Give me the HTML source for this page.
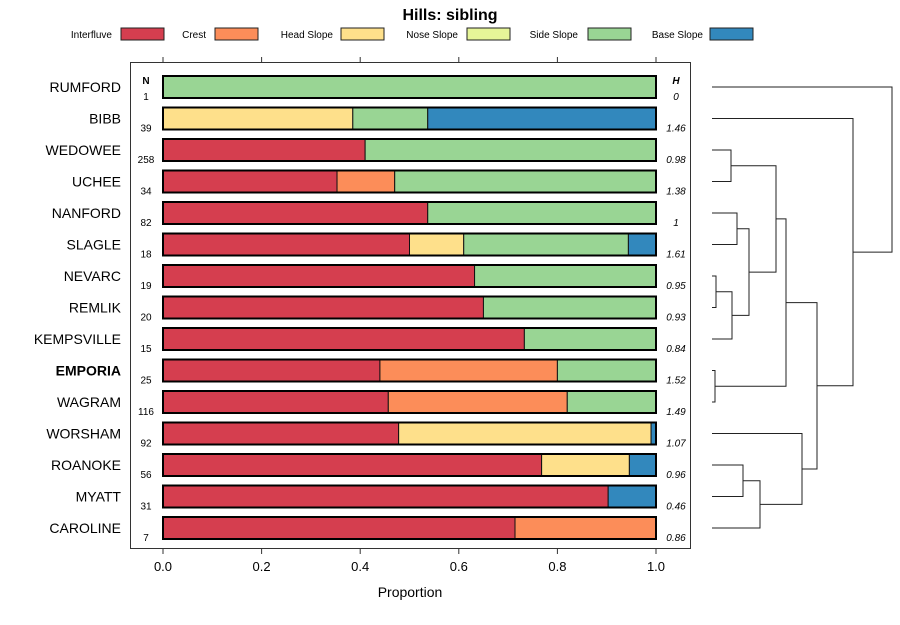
<!DOCTYPE html>
<html><head><meta charset="utf-8"><style>
body{margin:0;background:#fff;font-family:"Liberation Sans",sans-serif}
svg text{font-family:"Liberation Sans",sans-serif}
</style></head><body>
<svg id="c" width="900" height="620" xmlns="http://www.w3.org/2000/svg"></svg>
<script>
const categories=["RUMFORD","BIBB","WEDOWEE","UCHEE","NANFORD","SLAGLE","NEVARC","REMLIK","KEMPSVILLE","EMPORIA","WAGRAM","WORSHAM","ROANOKE","MYATT","CAROLINE"];
const classes=["Interfluve","Crest","Head Slope","Nose Slope","Side Slope","Base Slope"];
const colors=["#d53e4f","#fc8d59","#fee08b","#e6f598","#99d594","#3288bd"];
const interfluve=[0,0,0.41,0.353,0.537,0.5,0.632,0.65,0.733,0.44,0.457,0.478,0.768,0.903,0.714];
const crest=[0,0,0,0.117,0,0,0,0,0,0.36,0.363,0,0,0,0.286];
const headSlope=[0,0.385,0,0,0,0.11,0,0,0,0,0,0.512,0.178,0,0];
const noseSlope=[0,0,0,0,0,0,0,0,0,0,0,0,0,0,0];
const sideSlope=[1,0.152,0.59,0.53,0.463,0.334,0.368,0.35,0.267,0.2,0.18,0,0,0,0];
const baseSlope=[0,0.463,0,0,0,0.056,0,0,0,0,0,0.01,0.054,0.097,0];
const nValues=["1","39","258","34","82","18","19","20","15","25","116","92","56","31","7"];
const hValues=["0","1.46","0.98","1.38","1","1.61","0.95","0.93","0.84","1.52","1.49","1.07","0.96","0.46","0.86"];
const ticks=[0,0.2,0.4,0.6,0.8,1];
const tickLabels=["0.0","0.2","0.4","0.6","0.8","1.0"];
const series=[interfluve,crest,headSlope,noseSlope,sideSlope,baseSlope];
const NS="http://www.w3.org/2000/svg",svg=document.getElementById('c');
function mk(t,a,p){const e=document.createElementNS(NS,t);for(const k in a)e.setAttribute(k,a[k]);(p||svg).appendChild(e);return e;}
const X=p=>163+493*p, Y=i=>87+i*31.5;
// title
let t=mk('text',{x:450,y:20,'text-anchor':'middle','font-size':16,'font-weight':'bold'});t.textContent="Hills: sibling";

// legend
const legTextEnd=[112,206,333,458,578,703],legBox=[121,215,341,467,588,710];
classes.forEach((c,k)=>{
 const g=mk('g',{});
 
 const tx=mk('text',{x:legTextEnd[k],y:38,'text-anchor':'end','font-size':10},g);tx.textContent=c;
 mk('rect',{x:legBox[k],y:28,width:43,height:12,fill:colors[k],stroke:'#222','stroke-width':1},g);
});
// panel
const panel=mk('rect',{x:130.5,y:62.5,width:560,height:486,fill:'none',stroke:'#333','stroke-width':1});

ticks.forEach((v,k)=>{
 mk('line',{x1:X(v),x2:X(v),y1:57,y2:62,stroke:'#333'});
 mk('line',{x1:X(v),x2:X(v),y1:549,y2:554,stroke:'#333'});
 const l=mk('text',{x:X(v),y:571,'text-anchor':'middle','font-size':13});l.textContent=tickLabels[k];
 
});
t=mk('text',{x:410,y:597,'text-anchor':'middle','font-size':14});t.textContent="Proportion";

t=mk('text',{x:146,y:84,'text-anchor':'middle','font-size':10,'font-weight':'bold'});t.textContent="N";

t=mk('text',{x:676,y:84,'text-anchor':'middle','font-size':10,'font-weight':'bold','font-style':'italic'});t.textContent="H";

categories.forEach((c,i)=>{
 const y=Y(i);
 const lb=mk('text',{x:121,y:y+5,'text-anchor':'end','font-size':14,'font-weight':c==="EMPORIA"?'bold':'normal'});lb.textContent=c;
 
 const n=mk('text',{x:146,y:y+13,'text-anchor':'middle','font-size':10});n.textContent=nValues[i];
 
 const h=mk('text',{x:676,y:y+13,'text-anchor':'middle','font-size':10,'font-style':'italic'});h.textContent=hValues[i];
 
 let cum=0;
 series.forEach((s,k)=>{
  const v=s[i]; if(v<=0)return;
  const r=mk('rect',{x:X(cum),y:y-11,width:X(cum+v)-X(cum),height:22,fill:colors[k],stroke:'#111','stroke-width':1});
  
  cum+=v;
 });
 const o=mk('rect',{x:X(0),y:y-11,width:X(cum)-X(0),height:22,fill:'none',stroke:'#000','stroke-width':2});
 
});
// dendrogram: [leftY or node, rightY, mergeX]
const dg=mk('g',{fill:'none',stroke:'#222','stroke-width':1});

const merges=[[2,3,731],[4,5,737],[6,7,716],["n2",8,732],["n1","n3",749],["n0","n4",776],[9,10,715],["n5","n6",786],[12,13,743],["n8",14,760],[11,"n9",802],["n7","n10",817],[1,"n11",853],[0,"n12",892]];
const nodes=[];
function pos(r){return typeof r==="number"?{x:712,y:Y(r)}:nodes[+r.slice(1)];}
merges.forEach(m=>{
 const a=pos(m[0]),b=pos(m[1]),x=m[2];
 mk('path',{d:`M${a.x},${a.y}H${x}V${b.y}H${b.x}`},dg);
 nodes.push({x:x,y:(a.y+b.y)/2});
});
</script>
</body></html>
